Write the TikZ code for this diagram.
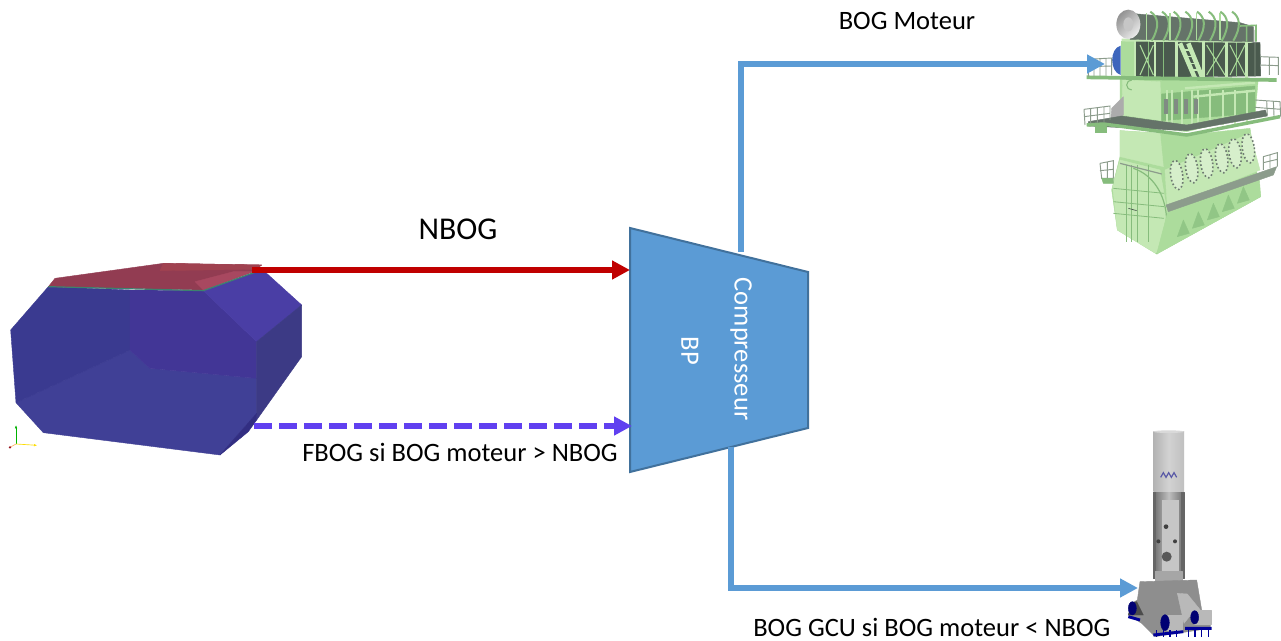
\documentclass[tikz,border=0pt]{standalone}
\usepackage{fontspec}
\setmainfont{Carlito}
\usetikzlibrary{arrows.meta}
\definecolor{flowblue}{HTML}{5B9BD5}
\definecolor{flowedge}{HTML}{41719C}
\definecolor{flowred}{HTML}{C00000}
\definecolor{flowviolet}{HTML}{6040F0}
\definecolor{eg}{HTML}{ACDC9C}
\definecolor{egl}{HTML}{C4E8B4}
\definecolor{egd}{HTML}{86BC7C}
\definecolor{egk}{HTML}{4A5A4E}
\definecolor{egr}{HTML}{8C9C8C}
\definecolor{base}{HTML}{8E8E8E}
\tikzset{
  flow/.style={line width=4.5pt,-{Triangle[length=13.5pt,width=13.5pt]}},
  lbl/.style={text=black,inner sep=0pt,font=\fontsize{19.9pt}{24pt}\selectfont},
  comp/.style={text=white,inner sep=0pt,rotate=-90,font=\fontsize{19.9pt}{24pt}\selectfont},
  rail/.style={draw=egr,line width=0.7pt},
  face/.style={fill=#1,draw=#1,line width=0.3pt,line join=round},
}
\begin{document}
\begin{tikzpicture}[x=0.75pt,y=-0.75pt]
\useasboundingbox (0,0) rectangle (1281,641);
\fill[white] (0,0) rectangle (1281,641);

%% ---------- tank (zoom coordinates: 1/3 px, origin 0,240)
\begin{scope}[shift={(0,240)},x=0.25pt,y=-0.25pt]
  \definecolor{tfloor}{RGB}{64,64,150}
  \definecolor{tleft}{RGB}{58,58,144}
  \definecolor{tback}{RGB}{66,54,150}
  \definecolor{ttop}{RGB}{74,62,165}
  \definecolor{tright}{RGB}{60,58,133}
  \definecolor{tedge}{RGB}{50,46,130}
  \definecolor{tred}{RGB}{146,60,82}
  \definecolor{tredb}{RGB}{160,66,80}
  \definecolor{tredc}{RGB}{168,72,96}
  \path[face=tfloor] (48,488)--(390,330)--(450,385)--(770,415)--(770,520)--(660,645)--(130,578)--cycle;
  \path[face=tleft] (32,270)--(145,140)--(390,150)--(390,330)--(48,488)--cycle;
  \path[face=tback] (390,150)--(610,152)--(770,305)--(770,415)--(450,385)--(390,330)--cycle;
  \path[face=ttop] (610,152)--(770,95)--(800,100)--(905,195)--(770,305)--cycle;
  \path[face=tright] (770,305)--(905,195)--(905,350)--(770,540)--cycle;
  \path[face=tedge] (770,520)--(770,540)--(745,575)--(660,645)--cycle;
  \path[face=tred] (145,140)--(165,115)--(490,70)--(785,75)--(760,95)--(610,150)--cycle;
  \path[face=tredb] (490,70)--(785,75)--(760,88)--(480,92)--cycle;
  \path[face=tredc] (585,125)--(700,95)--(760,95)--(610,150)--cycle;
  \draw[line width=0.9pt,color={rgb,255:red,60;green,130;blue,110}] (145,140)--(610,152)--(770,95);
  \coordinate (axO) at (48,612);
  \draw[line width=0.5pt,color=green!70!black,-{Latex[length=2.5pt]}] (axO)--(48,555);
  \draw[line width=0.5pt,color=yellow!80!orange,-{Latex[length=2.5pt]}] (axO)--(112,616);
  \draw[line width=0.5pt,color=orange!60] (axO)--(30,622);
  \fill[color={rgb,255:red,150;green,20;blue,30}] (30,622) circle (4);
\end{scope}
\coordinate (tankTop) at (252,270);
\coordinate (tankBottom) at (254,426);

%% ---------- compressor
\draw[fill=flowblue,draw=flowedge,line width=1.5pt] (630,228) -- (808,272) -- (808,428) -- (630,472) -- cycle;
\coordinate (compIn) at (630,270);
\coordinate (compInB) at (632,426);
\coordinate (compTop) at (741,252);
\coordinate (compBottom) at (731,447);
\node[comp] (compresseur) at (741,349) {Compresseur};
\node[comp] (bp) at (690,351) {BP};

%% ---------- engine (zoom coordinates: 1/3 px, origin 1020,0)
\begin{scope}[shift={(1020,0)},x=0.25pt,y=-0.25pt]
  % silhouettes of the lower body
  \path[face=eg] (300,392)--(500,405)--(690,385)--(722,590)--(410,762)--(292,690)--(275,570)--(300,470)--cycle;
  % round end
  \path[face=egl] (278,560)--(300,480)--(420,510)--(442,640)--(410,762)--(292,690)--cycle;
  \path[face=egl] (300,392)--(420,400)--(430,500)--(300,470)--cycle;
  \foreach \xc in {318,335,352,385}{\draw[egd,line width=0.7pt] (\xc,495)--(\xc,725);}
  \foreach \yc in {565,605,640}{\draw[egd,line width=0.6pt] (280,\yc)--(432,\yc+15);}
  \draw[egd,line width=0.9pt] (340,505) .. controls (445,540) and (465,690) .. (410,762);
  \draw[egr,line width=0.9pt] (300,490)--(425,522);
  \draw[egk,line width=0.5pt] (325,625)--(350,632);
  % skirt
  \path[face=eg] (442,640)--(718,535)--(722,590)--(410,762)--cycle;
  \foreach \xr/\yr in {490/690,535/665,580/640,625/615,670/590}
    {\path[face=egd!70!eg] (\xr-18,\yr+20)--(\xr,\yr-30)--(\xr+18,\yr+10)--cycle;}
  \path[face=egl] (435,510)--(690,400)--(720,510)--(442,620)--cycle;
  % window row
  \foreach \xa/\ya in {470/525,515/505,560/490,605/475,645/460,685/445}
    {\draw[egk!80,line width=1.2pt,dash pattern=on 1.2pt off 1.8pt,fill=white!30!egl,rotate around={8:(\xa,\ya)}] (\xa,\ya) ellipse (18 and 44);}
  % ledge
  \path[face=egr] (438,615)--(770,500)--(760,525)--(445,635)--cycle;
  % rails of the lower section
  \draw[rail] (240,490)--(280,482)--(280,535) (240,490)--(245,535)--(280,535) (240,512)--(280,508) (262,486)--(262,535);
  \draw[rail] (730,470)--(772,458)--(772,500) (730,470)--(730,510) (750,464)--(750,505) (730,488)--(772,478);
  \path[face=egd] (245,535)--(280,535)--(280,550)--(250,550)--cycle;
  % mid section
  \path[face=eg] (300,232)--(715,235)--(705,345)--(500,395)--(300,372)--cycle;
  \path[face=egl] (308,240)--(420,245)--(425,362)--(305,345)--cycle;
  \path[face=egd] (425,282)--(705,258)--(705,340)--(425,362)--cycle;
  \foreach \xc in {440,455,485,515,535,570,610,645,680}{\draw[egl,line width=1.3pt] (\xc,270)--(\xc,375);}
  \foreach \xc in {432,462,492,522}{\path[face=egk!70] (\xc,298) rectangle (\xc+10,340);}
  \draw[egl,line width=1.8pt] (495,265)--(705,248) (520,290)--(705,272);
  \draw[egd,line width=0.8pt] (335,270) arc (90:270:15);
  \path[face=gray!65] (275,325)--(310,290)--(310,345)--(272,365)--cycle;
  \path[face=egk!85] (205,378)--(500,392)--(742,348)--(736,330)--(500,375)--(305,348)--(205,365)--cycle;
  \draw[egd,line width=2.6pt] (200,375)--(250,372)--(500,405)--(780,350);
  \path[face=egd] (225,380) rectangle (260,398);
  \draw[rail] (192,328)--(270,318)--(270,360) (192,328)--(195,375) (232,322)--(232,368) (192,350)--(270,340) (212,325)--(212,370) (252,320)--(252,366);
  \draw[rail] (705,300)--(780,305)--(782,350) (740,302)--(742,345) (705,322)--(782,328) (760,303)--(762,348);
  % upper frame
  \path[face=egk] (345,122)--(720,128)--(722,228)--(345,232)--cycle;
  \fill[color={rgb,255:red,61;green,102;blue,188}] (302,137) .. controls (268,145) and (268,215) .. (302,225) -- cycle;
  \path[face=eg] (305,125)--(345,125)--(345,232)--(305,232)--cycle;
  \foreach \xc in {345,405,470,550,620,680}{\draw[egl,line width=1.8pt] (\xc,118)--(\xc,235);}
  \foreach \xc in {385,430,580,650}{\draw[egd,line width=1.1pt] (\xc,122)--(\xc,232);}
  \draw[egl,line width=2.2pt] (305,120)--(695,124);
  \draw[egl,line width=3.4pt] (480,130)--(525,235) (505,130)--(548,235);
  \foreach \yl in {150,170,190,210}{\draw[egl,line width=1pt] (\yl/2.2+420,\yl)--(\yl/2.2+445,\yl);}
  \draw[eg,line width=0.8pt] (360,135)--(400,225) (400,135)--(360,225) (560,135)--(615,225) (615,135)--(560,225) (630,135)--(675,225) (675,135)--(630,225);
  \draw[egd,line width=2.8pt] (200,232)--(770,240);
  \draw[rail] (205,178)--(275,174)--(275,226) (205,178)--(205,230) (240,176)--(240,228) (205,200)--(275,198) (222,177)--(222,229) (258,175)--(258,227);
  \draw[rail] (720,170)--(775,172)--(775,225) (748,172)--(748,225) (720,195)--(775,197) (705,90)--(705,230);
  % top
  \path[face=egk!85] (330,40)--(660,68)--(700,80)--(700,125)--(330,118)--cycle;
  \shade[left color=gray!85,right color=gray!15,shading angle=45] (325,73) ellipse (36 and 44);
  \fill[color=gray!45] (325,73) ellipse (15 and 21);
  \foreach \xc in {395,430,465,500,535,570,605,640}
    {\draw[egd,line width=1.5pt] (\xc,122) .. controls (\xc+25,80) and (\xc+20,50) .. (\xc-4,35);}
  \foreach \xc in {380,450,530,600}{\draw[eg,line width=1pt] (\xc,40)--(\xc,120);}
  \draw[egd,line width=1.2pt] (660,78)--(708,76)--(708,125) (680,78)--(680,125);
\end{scope}
\coordinate (engineIn) at (1105,64);

%% ---------- GCU (zoom coordinates: 1/3 px, origin 1100,420)
\begin{scope}[shift={(1100,420)},x=0.25pt,y=-0.25pt]
  \shade[left color=gray!60,right color=gray!50,middle color=gray!35] (160,35) rectangle (252,215);
  \fill[color=gray!30] (206,35) ellipse (46 and 4);
  \draw[color=blue!30!gray,line width=0.9pt] (182,172) -- (190,158) -- (198,172) -- (206,158) -- (214,172) -- (222,158) -- (230,172);
  \shade[left color=gray!85!black,right color=gray!85!black,middle color=gray!50] (160,218) rectangle (252,475);
  \path[face=gray!80!black] (160,218) rectangle (167,475);
  \path[face=gray!80!black] (245,218) rectangle (252,475);
  \path[face=gray!45] (186,240) rectangle (236,470);
  \fill[color=black!75] (198,320) circle (7) (175,364) circle (6) (225,364) circle (6);
  \fill[color=black!65] (200,410) circle (15);
  \path[face=gray!70] (165,455) rectangle (248,482);
  % base
  \path[face=base] (120,485)--(290,480)--(305,570)--(335,590)--(330,625)--(165,650)--(125,610)--(85,585)--(95,550)--(112,540)--cycle;
  \path[face=gray!55] (232,520)--(262,522)--(305,575)--(268,590)--(252,610)--cycle;
  \path[face=gray!60!black] (110,545)--(130,585)--(85,585)--(95,550)--cycle;
  % rollers
  \path[face=gray!55] (190,585) rectangle (248,630);
  \path[face=gray!55] (282,572) rectangle (335,612);
  \path[face=blue!45!black] (195,608) ellipse (13 and 24);
  \path[face=blue!45!black] (284,592) ellipse (12 and 20);
  \path[face=blue!45!black] (97,565) ellipse (12 and 20);
  \draw[color=blue!60!black,line width=2.2pt] (160,645)--(250,635) (255,625)--(335,625) (85,590)--(120,600);
  \foreach \xd in {170,190,210,230,265,285,305,325}{\draw[color=blue!60!black,line width=1pt] (\xd,630)--(\xd,652);}
\end{scope}
\coordinate (gcuIn) at (1138,588);

%% ---------- connectors
\draw[flow,flowred] (tankTop) -- (compIn);
\draw[flow,flowviolet,dash pattern=on 13.5pt off 5.25pt] (tankBottom) -- (compInB);
\draw[flow,flowblue] (compTop) |- (engineIn);
\draw[flow,flowblue] (compBottom) |- (gcuIn);

%% ---------- labels
\node[lbl,font=\fontsize{23.8pt}{28pt}\selectfont] (nbog) at (458,229) {NBOG};
\node[lbl] (moteur) at (907,21) {BOG Moteur};
\node[lbl,anchor=west] (fbog) at (302,452) {FBOG si BOG moteur > NBOG};
\node[lbl,anchor=west] (gcu) at (753,627) {BOG GCU si BOG moteur < NBOG};
\end{tikzpicture}
\end{document}
